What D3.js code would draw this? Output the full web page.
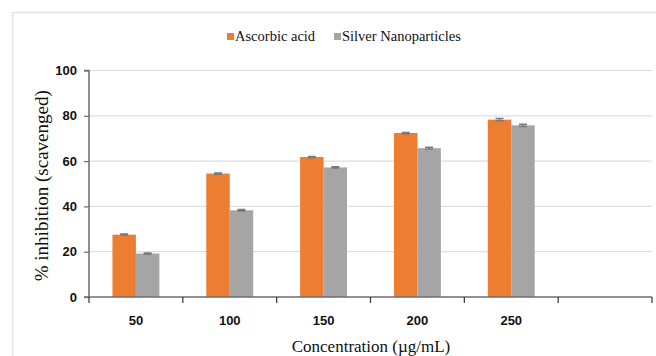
<!DOCTYPE html>
<html><head><meta charset="utf-8">
<script src="https://cdn.jsdelivr.net/npm/d3@7"></script>
<style>body{margin:0;background:#fff}svg{display:block}</style>
</head><body><svg id="c" width="656" height="356"></svg>
<script>
const categories = ["50","100","150","200","250",""];
const seriesNames = ["Ascorbic acid","Silver Nanoparticles"];
const ascorbic = [27.5, 54.5, 61.8, 72.4, 78.3, null];
const silver = [19.2, 38.3, 57.2, 65.7, 75.8, null];
const ascorbicErr = [0.3, 0.3, 0.3, 0.3, 0.5, null];
const silverErr = [0.3, 0.3, 0.3, 0.4, 0.5, null];
const yTicks = [0,20,40,60,80,100];
const colors = ["#ED7D31","#A5A5A5"];

const svg = d3.select("#c");
const m = {l:89, r:652, t:70.5, b:297};
const x = d3.scaleBand().domain(categories).range([m.l, m.r]).padding(0);
const y = d3.scaleLinear().domain([0,100]).range([m.b, m.t]);
const x1 = d3.scaleBand().domain(seriesNames).range([0, x.bandwidth()]).paddingOuter(1).paddingInner(0);

// frame
svg.append("path").attr("d","M12.5,356 V12.5 H656").attr("fill","none").attr("stroke","#e3e3e3").attr("stroke-width",1.5);

// gridlines
svg.append("g").selectAll("line").data(yTicks.filter(d=>d>0)).join("line")
  .attr("x1", m.l).attr("x2", m.r).attr("y1", d=>y(d)).attr("y2", d=>y(d))
  .attr("stroke","#dedede").attr("stroke-width",1.2);

const data = categories.map((c,i)=>({c, vals:[
  {s:seriesNames[0], v:ascorbic[i], e:ascorbicErr[i]},
  {s:seriesNames[1], v:silver[i], e:silverErr[i]}]}));

const g = svg.append("g").selectAll("g").data(data.filter(d=>d.vals[0].v!=null)).join("g")
  .attr("transform", d=>`translate(${x(d.c)},0)`);
g.selectAll("rect").data(d=>d.vals).join("rect")
  .attr("x", d=>x1(d.s)).attr("width", x1.bandwidth())
  .attr("y", d=>y(d.v)).attr("height", d=>y(0)-y(d.v))
  .attr("fill", (d,i)=>colors[i]);
// error bars
g.selectAll("path.err").data(d=>d.vals).join("path").attr("class","err")
  .attr("d", d=>{const cx=x1(d.s)+x1.bandwidth()/2; const a=y(d.v+d.e), b=y(d.v-d.e);
    return `M${cx-4},${a}H${cx+4}M${cx},${a}V${b}M${cx-4},${b}H${cx+4}`;})
  .attr("stroke","#7a7a7a").attr("stroke-width",1.4).attr("fill","none");

// y axis
const ya = svg.append("g").attr("transform",`translate(${m.l},0)`)
  .call(d3.axisLeft(y).tickValues(yTicks).tickSize(5).tickPadding(7));
ya.select(".domain").attr("stroke","#6e6e6e").attr("stroke-width",1.5).attr("d",`M-5,${m.t}H0V${m.b}H-5`);
ya.selectAll(".tick line").attr("stroke","#6e6e6e").attr("stroke-width",1.2);
ya.selectAll(".tick text").attr("font-family","Liberation Sans, Arial, sans-serif").attr("font-weight","bold").attr("font-size","13px").attr("fill","#111");

// x axis
const xa = svg.append("g").attr("transform",`translate(0,${m.b})`)
  .call(d3.axisBottom(x).tickSize(0).tickPadding(19));
xa.select(".domain").attr("stroke","#6e6e6e").attr("stroke-width",1.5).attr("d",`M${m.l},0H${m.r}`);
xa.selectAll(".tick text").attr("font-family","Liberation Sans, Arial, sans-serif").attr("font-weight","bold").attr("font-size","13px").attr("fill","#111");
// boundary ticks
xa.append("g").selectAll("line").data(categories.map((c)=>x(c)).concat([m.r])).join("line")
  .attr("x1",d=>d).attr("x2",d=>d).attr("y1",0).attr("y2",6).attr("stroke","#333").attr("stroke-width",1.2);

// axis titles
svg.append("text").attr("transform",`translate(48,${(m.t+m.b)/2+2}) rotate(-90)`)
  .attr("text-anchor","middle").attr("font-family","Liberation Serif, Times New Roman, serif")
  .attr("font-size","19px").attr("fill","#111").text("% inhibition (scavenged)");
svg.append("text").attr("x",371).attr("y",352).attr("text-anchor","middle")
  .attr("font-family","Liberation Serif, Times New Roman, serif").attr("font-size","17px").attr("fill","#111")
  .text("Concentration (µg/mL)");

// legend
const legendX = [227, 334];
const lg = svg.append("g").selectAll("g").data(seriesNames).join("g")
  .attr("transform",(d,i)=>`translate(${legendX[i]},33)`);
lg.append("rect").attr("width",7).attr("height",7).attr("fill",(d,i)=>colors[i]);
lg.append("text").attr("x",8).attr("y",8).attr("font-family","Liberation Serif, Times New Roman, serif")
  .attr("font-size","14.5px").attr("fill","#111").text(d=>d);
</script></body></html>
